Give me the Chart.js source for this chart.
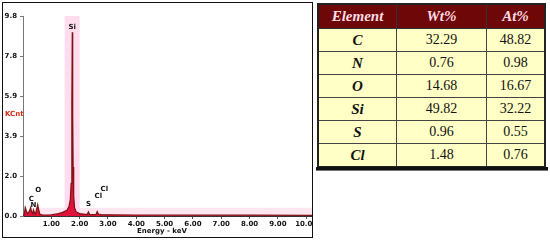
<!DOCTYPE html>
<html>
<head>
<meta charset="utf-8">
<script src="https://cdn.jsdelivr.net/npm/chart.js@4/dist/chart.umd.min.js"></script>
<style>
  body { margin: 0; background: #fff; width: 550px; height: 241px; position: relative; overflow: hidden; }
  #box { position: absolute; left: 2px; top: 2px; width: 309px; height: 234px; border: 1.5px solid #111; }
  #spec { position: absolute; left: 0; top: 0; }
  #kcnt { position: absolute; left: 5px; top: 110px; font: bold 7px "DejaVu Sans"; color: #d42a10; }
  #xtitle { position: absolute; left: 137px; top: 227px; font: bold 7px "DejaVu Sans"; color: #111; }
  table { position: absolute; left: 317px; top: 3px; border-collapse: collapse; border: 2px solid #222;
          font-family: "Liberation Serif", "DejaVu Serif", serif; }
  th { background: #6e0808; color: #ffdce4; font-style: italic; font-weight: bold; font-size: 15px; height: 23px;
       border: 1px solid #333; padding: 0; }
  td { background: #ffffc6; color: #111; font-size: 14px; text-align: center; height: 22px; border: 1px solid #444; padding: 0; }
  td.el { font-weight: bold; font-style: italic; font-size: 15px; }
  #rule { position: absolute; left: 316px; top: 167px; width: 232px; height: 3px; background: #111; border-bottom: 1px solid #777; }
</style>
</head>
<body>
<canvas id="spec" width="313" height="241"></canvas>
<div id="box"></div>
<div id="kcnt">KCnt</div>
<div id="xtitle">Energy - keV</div>
<table id="tbl"></table>
<div id="rule"></div>
<script>
// spectrum
const energy = [0.00, 0.04, 0.08, 0.12, 0.16, 0.20, 0.24, 0.27, 0.30, 0.34, 0.37, 0.40, 0.44, 0.48, 0.52, 0.56, 0.60,
  0.70, 0.80, 1.00, 1.20, 1.40, 1.55, 1.62, 1.67, 1.70, 1.725, 1.74, 1.755, 1.77, 1.79, 1.82, 1.88, 2.00, 2.20,
  2.27, 2.31, 2.35, 2.45, 2.58, 2.62, 2.66, 2.75, 3.00, 4.00, 6.00, 8.00, 10.24];
const counts = [0.00, 0.05, 0.42, 0.25, 0.12, 0.18, 0.30, 0.42, 0.22, 0.12, 0.30, 0.18, 0.10, 0.32, 0.55, 0.28, 0.08,
  0.05, 0.05, 0.06, 0.10, 0.18, 0.28, 0.45, 0.80, 1.60, 5.50, 9.00, 5.00, 2.40, 1.00, 0.40, 0.20, 0.12, 0.08,
  0.08, 0.20, 0.08, 0.07, 0.08, 0.22, 0.10, 0.07, 0.06, 0.05, 0.04, 0.04, 0.03];

const xTicks = [1, 2, 3, 4, 5, 6, 7, 8, 9, 10];
const xTickLabels = ['1.00', '2.00', '3.00', '4.00', '5.00', '6.00', '7.00', '8.00', '9.00', '10.00'];
const yTicks = [0, 1.96, 3.92, 5.88, 7.84, 9.8];
const yTickLabels = ['0.0', '2.0', '3.9', '5.9', '7.8', '9.8'];

const peakNames = ['Si', 'C', 'N', 'O', 'S', 'Cl', 'Cl'];
const peakE = [1.74, 0.29, 0.37, 0.54, 2.31, 2.66, 2.87];
const peakY = [9.26, 0.83, 0.54, 1.27, 0.59, 0.98, 1.32];

// table
const elements = ['C', 'N', 'O', 'Si', 'S', 'Cl'];
const wtPct = ['32.29', '0.76', '14.68', '49.82', '0.96', '1.48'];
const atPct = ['48.82', '0.98', '16.67', '32.22', '0.55', '0.76'];

let html = '<tr><th style="width:77px">Element</th><th style="width:89px">Wt%</th><th style="width:57px">At%</th></tr>';
elements.forEach((el, i) => {
  html += '<tr><td class="el">' + el + '</td><td>' + wtPct[i] + '</td><td>' + atPct[i] + '</td></tr>';
});
document.getElementById('tbl').innerHTML = html;

const shading = {
  id: 'shading',
  beforeDatasetsDraw(chart) {
    const { ctx, chartArea: a, scales: { x, y } } = chart;
    ctx.save();
    ctx.fillStyle = '#fde6f0';
    ctx.fillRect(x.getPixelForValue(0.3), y.getPixelForValue(0.4), a.right - x.getPixelForValue(0.3), y.getPixelForValue(0) - y.getPixelForValue(0.4));
    ctx.fillStyle = '#ffdcee';
    ctx.fillRect(x.getPixelForValue(1.47), a.top, x.getPixelForValue(2.0) - x.getPixelForValue(1.47), a.bottom - a.top);
    ctx.restore();
  }
};

const peakLabels = {
  id: 'peakLabels',
  afterDatasetsDraw(chart) {
    const { ctx, scales: { x, y } } = chart;
    ctx.save();
    ctx.font = 'bold 7px "DejaVu Sans"';
    ctx.fillStyle = '#111';
    ctx.textAlign = 'center';
    ctx.textBaseline = 'middle';
    peakNames.forEach((n, i) => {
      ctx.fillText(n, x.getPixelForValue(peakE[i]), y.getPixelForValue(peakY[i]));
    });
    ctx.restore();
  }
};

new Chart(document.getElementById('spec'), {
  type: 'line',
  data: {
    datasets: [{
      data: energy.map((e, i) => ({ x: e, y: counts[i] })),
      borderColor: '#7c1414',
      borderWidth: 1.2,
      backgroundColor: '#e0123c',
      fill: 'origin',
      pointRadius: 0,
      tension: 0
    }]
  },
  options: {
    responsive: false,
    animation: false,
    devicePixelRatio: 1,
    layout: { padding: { left: 0, right: 0, top: 16, bottom: 0 } },
    plugins: { legend: { display: false }, tooltip: { enabled: false } },
    scales: {
      x: {
        type: 'linear', min: 0, max: 10.24,
        afterBuildTicks: s => { s.ticks = xTicks.map(v => ({ value: v })); },
        afterFit: s => { s.height = 25; s.paddingLeft = 0; s.paddingRight = 0; },
        grid: { drawOnChartArea: false, drawTicks: true, tickLength: 3, color: '#555' },
        border: { display: true, color: '#333', width: 1 },
        ticks: {
          autoSkip: false, maxRotation: 0, padding: 1, color: '#111',
          font: { family: 'DejaVu Sans', size: 7, weight: 'bold' },
          callback: (v, i) => xTickLabels[i]
        }
      },
      y: {
        min: 0, max: 9.8,
        afterBuildTicks: s => { s.ticks = yTicks.map(v => ({ value: v })); },
        afterFit: s => { s.width = 23; s.paddingTop = 0; s.paddingBottom = 0; },
        grid: { drawOnChartArea: false, drawTicks: true, tickLength: 3, color: '#777' },
        border: { display: true, color: '#777', width: 1 },
        ticks: {
          autoSkip: false, padding: 3, color: '#111',
          font: { family: 'DejaVu Sans', size: 7, weight: 'bold' },
          callback: (v, i) => yTickLabels[i]
        }
      }
    }
  },
  plugins: [shading, peakLabels]
});
</script>
</body>
</html>
